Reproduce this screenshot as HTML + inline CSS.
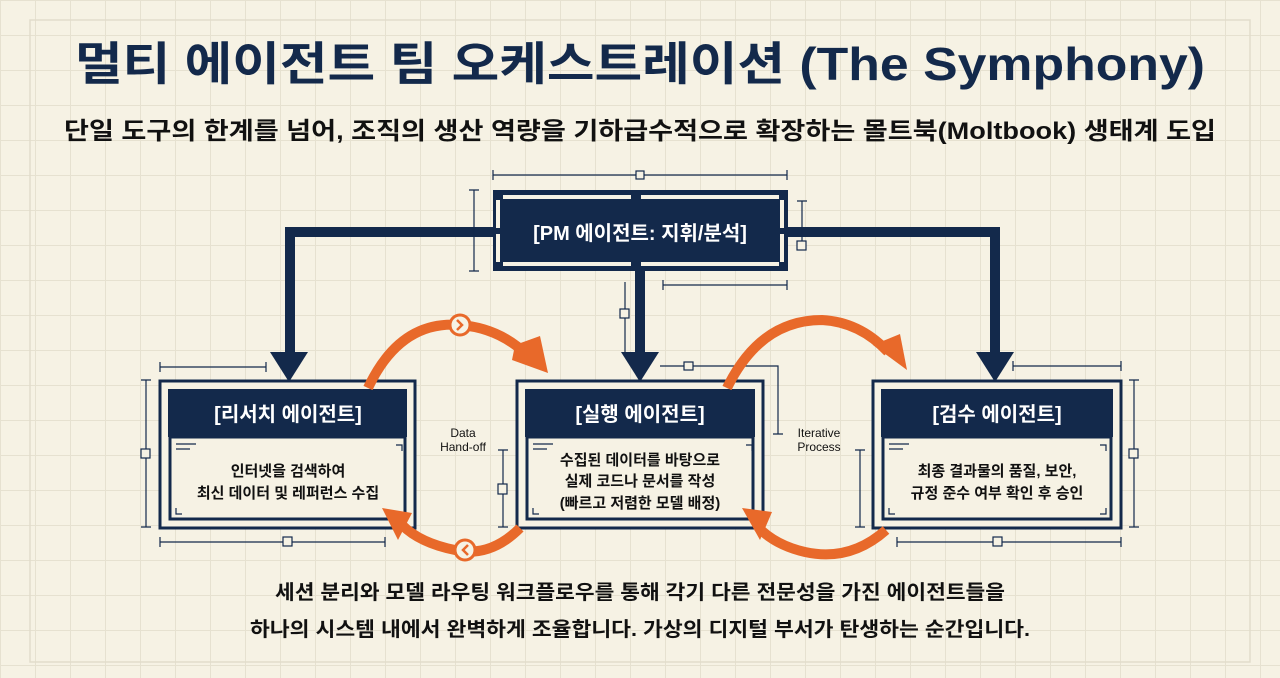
<!DOCTYPE html>
<html><head><meta charset="utf-8"><style>
html,body{margin:0;padding:0;}
body{width:1280px;height:678px;overflow:hidden;background:#f6f2e4;
background-image:linear-gradient(#e6e1d0 1px,transparent 1px),linear-gradient(90deg,#e6e1d0 1px,transparent 1px);background-size:35px 35px;background-position:0 0;
font-family:"Liberation Sans","Noto Sans CJK KR",sans-serif;position:relative;}
svg{position:absolute;left:0;top:0}
text{font-family:"Liberation Sans","Noto Sans CJK KR",sans-serif;font-weight:bold}
</style></head><body>
<svg width="1280" height="678" viewBox="0 0 1280 678">
<rect x="30" y="20" width="1220" height="642" fill="none" stroke="#e2dccb" stroke-width="1.5"/>
<text x="640" y="80" text-anchor="middle" font-size="46" fill="#13294b" textLength="1130" lengthAdjust="spacingAndGlyphs">멀티 에이전트 팀 오케스트레이션 (The Symphony)</text>
<text x="640" y="139" text-anchor="middle" font-size="24" fill="#111" textLength="1152" lengthAdjust="spacingAndGlyphs">단일 도구의 한계를 넘어, 조직의 생산 역량을 기하급수적으로 확장하는 몰트북(Moltbook) 생태계 도입</text>

<!-- connectors -->
<g fill="#13294b">
<polygon points="493,227 285,227 285,352 295,352 295,237 493,237"/>
<polygon points="270,352 308,352 289,382"/>
<rect x="635" y="271" width="10" height="82"/>
<polygon points="621,352 659,352 640,382"/>
<polygon points="787,227 1000,227 1000,352 990,352 990,237 787,237"/>
<polygon points="976,352 1014,352 995,382"/>
</g>

<!-- PM box -->
<rect x="493" y="190" width="295" height="81" fill="#13294b"/>
<g fill="#f6f2e4">
<rect x="503" y="195" width="128" height="4"/><rect x="641" y="195" width="138" height="4"/>
<rect x="503" y="262" width="128" height="4"/><rect x="641" y="262" width="138" height="4"/>
<rect x="496" y="200" width="4" height="28"/><rect x="496" y="234" width="4" height="28"/>
<rect x="780" y="200" width="4" height="28"/><rect x="780" y="234" width="4" height="28"/>
</g>
<text x="640" y="240" text-anchor="middle" font-size="20" fill="#fff">[PM 에이전트: 지휘/분석]</text>

<!-- agent boxes -->
<g id="boxes">
<g>
<rect x="160" y="381" width="255" height="147" fill="#f6f2e4" stroke="#13294b" stroke-width="3"/>
<rect x="168" y="389" width="239" height="48" fill="#13294b"/>
<rect x="170" y="437" width="235" height="82" fill="#f6f2e4" stroke="#13294b" stroke-width="3"/>
<text x="288" y="421" text-anchor="middle" font-size="20" fill="#fff">[리서치 에이전트]</text>
<text x="288" y="476" text-anchor="middle" font-size="15" fill="#111">인터넷을 검색하여</text>
<text x="288" y="498" text-anchor="middle" font-size="15" fill="#111">최신 데이터 및 레퍼런스 수집</text>
</g>
<g>
<rect x="517" y="381" width="246" height="147" fill="#f6f2e4" stroke="#13294b" stroke-width="3"/>
<rect x="525" y="389" width="230" height="48" fill="#13294b"/>
<rect x="527" y="437" width="226" height="82" fill="#f6f2e4" stroke="#13294b" stroke-width="3"/>
<text x="640" y="421" text-anchor="middle" font-size="20" fill="#fff">[실행 에이전트]</text>
<text x="640" y="465" text-anchor="middle" font-size="15" fill="#111">수집된 데이터를 바탕으로</text>
<text x="640" y="486" text-anchor="middle" font-size="15" fill="#111">실제 코드나 문서를 작성</text>
<text x="640" y="508" text-anchor="middle" font-size="15" fill="#111">(빠르고 저렴한 모델 배정)</text>
</g>
<g>
<rect x="873" y="381" width="248" height="147" fill="#f6f2e4" stroke="#13294b" stroke-width="3"/>
<rect x="881" y="389" width="232" height="48" fill="#13294b"/>
<rect x="883" y="437" width="228" height="82" fill="#f6f2e4" stroke="#13294b" stroke-width="3"/>
<text x="997" y="421" text-anchor="middle" font-size="20" fill="#fff">[검수 에이전트]</text>
<text x="997" y="476" text-anchor="middle" font-size="15" fill="#111">최종 결과물의 품질, 보안,</text>
<text x="997" y="498" text-anchor="middle" font-size="15" fill="#111">규정 준수 여부 확인 후 승인</text>
</g>
</g>
<g stroke="#13294b" stroke-width="1.2" fill="none">
<path d="M176 444h20M176 449h14M533 444h20M533 449h14M889 444h20M889 449h14"/>
<path d="M396 445h6v6M176 508v6h6M746 445h6v6M533 508v6h6M1100 445h6v6M889 508v6h6M1106 508v6h-6"/>
<!-- dimension lines -->
<path d="M160 367h106M160 362v10M266 362v10"/>
<path d="M146 380v147M141 380h10M141 527h10"/>
<path d="M160 542h225M160 537v10M385 537v10"/>
<path d="M474 190v81M469 190h10M469 271h10"/>
<path d="M493 175h294M493 170v10M787 170v10"/>
<path d="M802 201v40M797 201h10"/>
<path d="M663 285h124M663 280v10M787 280v10"/>
<path d="M625 282v70"/>
<path d="M660 366h118v68M773 434h10"/>
<path d="M503 450v77M498 450h10M498 527h10"/>
<path d="M860 450v77M855 450h10M855 527h10"/>
<path d="M1013 366h108M1013 361v10M1121 361v10"/>
<path d="M1134 380v147M1129 380h10M1129 527h10"/>
<path d="M897 542h224M897 537v10M1121 537v10"/>
</g>
<g fill="#f6f2e4" stroke="#13294b" stroke-width="1.2">
<rect x="141" y="449" width="9" height="9"/><rect x="283" y="537" width="9" height="9"/>
<rect x="636" y="171" width="8" height="8"/><rect x="797" y="241" width="9" height="9"/>
<rect x="620" y="309" width="9" height="9"/><rect x="684" y="362" width="9" height="8"/>
<rect x="498" y="484" width="9" height="10"/><rect x="1129" y="449" width="9" height="9"/>
<rect x="993" y="537" width="9" height="9"/>
</g>
<text x="463" y="437" text-anchor="middle" font-size="12" font-weight="normal" fill="#111" style="font-weight:normal">Data</text>
<text x="463" y="451" text-anchor="middle" font-size="12" fill="#111" style="font-weight:normal">Hand-off</text>
<text x="819" y="437" text-anchor="middle" font-size="12" fill="#111" style="font-weight:normal">Iterative</text>
<text x="819" y="451" text-anchor="middle" font-size="12" fill="#111" style="font-weight:normal">Process</text>

<!-- orange arcs -->
<g stroke="#e8692a" stroke-width="10" fill="none">
<path d="M368 388 Q 400 320 460 325 Q 500 328 528 356"/>
<path d="M520 528 Q 490 558 455 550 Q 420 543 402 525"/>
<path d="M727 388 Q 760 320 822 320 Q 860 322 888 352"/>
<path d="M886 530 Q 850 562 805 552 Q 775 545 758 527"/>
</g>
<g fill="#e8692a">
<polygon points="515,345 540,336 548,373 512,360"/>
<polygon points="382,508 398,540 412,513"/>
<polygon points="873,345 900,334 907,370"/>
<polygon points="742,508 760,540 772,512"/>
</g>
<circle cx="460" cy="325" r="10" fill="#f6f2e4" stroke="#e8692a" stroke-width="3"/>
<path d="M457 320l5 5-5 5" stroke="#e8692a" stroke-width="2.5" fill="none"/>
<circle cx="465" cy="550" r="10" fill="#f6f2e4" stroke="#e8692a" stroke-width="3"/>
<path d="M468 545l-5 5 5 5" stroke="#e8692a" stroke-width="2.5" fill="none"/>

<text x="640" y="599" text-anchor="middle" font-size="20" fill="#111" textLength="730" lengthAdjust="spacingAndGlyphs">세션 분리와 모델 라우팅 워크플로우를 통해 각기 다른 전문성을 가진 에이전트들을</text>
<text x="640" y="636" text-anchor="middle" font-size="20" fill="#111" textLength="780" lengthAdjust="spacingAndGlyphs">하나의 시스템 내에서 완벽하게 조율합니다. 가상의 디지털 부서가 탄생하는 순간입니다.</text>
</svg>
</body></html>
